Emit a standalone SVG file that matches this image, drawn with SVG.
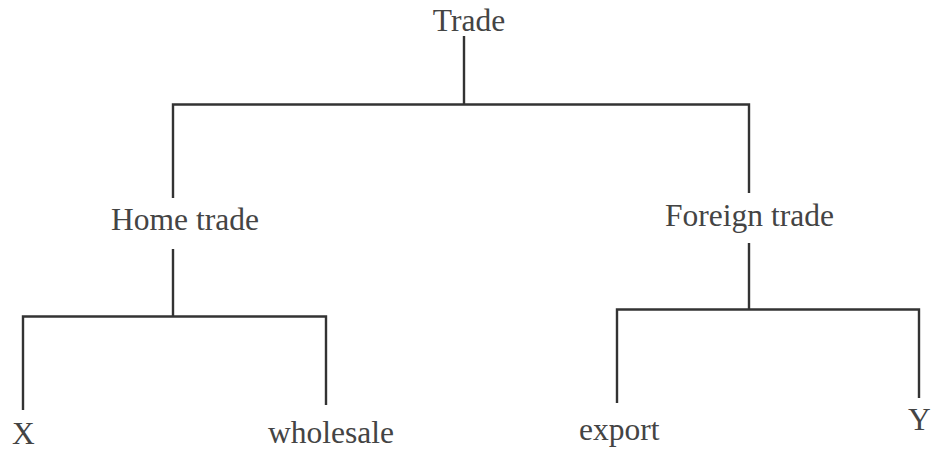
<svg xmlns="http://www.w3.org/2000/svg" width="931" height="450" viewBox="0 0 931 450">
<style>
.t{font-family:"Liberation Serif","Times New Roman",serif;font-size:31.5px;fill:#444}
.c{stroke:#333;stroke-width:2.4;fill:none}
</style>
<rect width="931" height="450" fill="#fff"/>
<g id="connectors" class="c">
<path d="M464 36V104.5M173 198V104.5H749V193"/>
<path d="M173 249V316.5M23 410V316.5H326V405"/>
<path d="M749 243V309.5M617 403V309.5H919V398"/>
</g>
<g id="trade"><text class="t" x="469" y="31" text-anchor="middle">Trade</text></g>
<g id="home"><text class="t" x="185" y="230" text-anchor="middle">Home trade</text></g>
<g id="foreign"><text class="t" x="749.5" y="226" text-anchor="middle">Foreign trade</text></g>
<g id="x"><text class="t" x="12" y="444">X</text></g>
<g id="wholesale"><text class="t" x="268" y="443">wholesale</text></g>
<g id="export"><text class="t" x="579" y="440">export</text></g>
<g id="y"><text class="t" x="908" y="430">Y</text></g>
</svg>
